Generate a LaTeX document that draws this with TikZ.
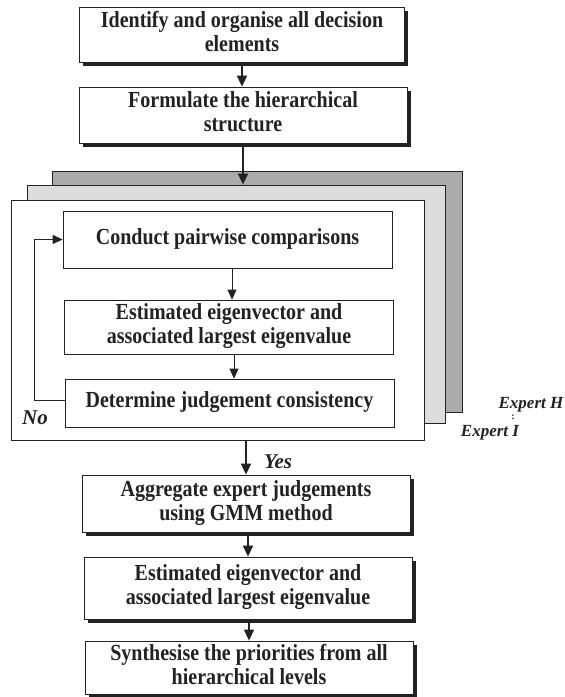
\documentclass[tikz,border=0pt]{standalone}
\usepackage{fontspec}
\setmainfont{Liberation Serif}
\usetikzlibrary{arrows.meta}
\definecolor{ink}{HTML}{222222}
\definecolor{darkpanel}{HTML}{ABABAB}
\definecolor{lightpanel}{HTML}{DCDCDC}
\newcommand\stx[1]{\scalebox{1}[1.15]{\begin{tabular}{@{}c@{}}#1\end{tabular}}}
\tikzset{
  box/.style={draw=ink, line width=0.8pt, fill=white, rectangle, inner sep=0pt, align=center,
    text=ink, font=\bfseries\fontsize{20}{21}\selectfont},
  shbox/.style={box, preaction={draw=none, fill=ink, transform canvas={shift={(3.5pt,-3.5pt)}}}},
  arr/.style={draw=ink, line width=1.6pt, -{Triangle[length=11pt,width=10pt]}},
  thinarr/.style={draw=ink, line width=0.8pt, -{Triangle[length=10pt,width=9pt]}},
  panel/.style={draw=ink, line width=0.8pt, rectangle, inner sep=0pt},
  lbl/.style={text=ink, font=\bfseries\itshape\fontsize{21}{24}\selectfont, inner sep=0pt},
  explbl/.style={text=ink, font=\bfseries\itshape\fontsize{17}{20}\selectfont, inner sep=0pt}
}
\begin{document}
\begin{tikzpicture}[x=1pt,y=-1pt]
\path[use as bounding box, fill=white] (0,0) rectangle (565,697);

% top boxes
\node[shbox, minimum width=325pt, minimum height=55pt] (b1) at (242,34.5) {\stx{Identify and organise all decision\\elements}};
\node[shbox, minimum width=328pt, minimum height=56pt] (b2) at (243,115) {\stx{Formulate the hierarchical\\structure}};

% stacked expert panels
\node[panel, fill=darkpanel, minimum width=410pt, minimum height=241pt] (pdark) at (257,291.5) {};
\node[panel, fill=lightpanel, minimum width=418pt, minimum height=238pt] (plight) at (236,304) {};
\node[panel, fill=white, minimum width=413pt, minimum height=240pt] (pwhite) at (217.5,320) {};

% inner boxes
\node[box, minimum width=329pt, minimum height=57pt] (ba) at (227.5,239.5) {\stx{Conduct pairwise comparisons}};
\node[box, minimum width=329pt, minimum height=54pt] (bb) at (229,327) {\stx{Estimated eigenvector and\\associated largest eigenvalue}};
\node[box, minimum width=329pt, minimum height=48pt] (bc) at (229.5,403) {\stx{Determine judgement consistency}};

% bottom boxes
\node[shbox, minimum width=328pt, minimum height=57pt] (bd) at (246,503.5) {\stx{Aggregate expert judgements\\using GMM method}};
\node[shbox, minimum width=328pt, minimum height=62pt] (be) at (248,588) {\stx{Estimated eigenvector and\\associated largest eigenvalue}};
\node[shbox, minimum width=328pt, minimum height=53pt] (bf) at (249,667.5) {\stx{Synthesise the priorities from all\\hierarchical levels}};

% labels
\node[lbl] (no) at (35,418) {No};
\node[lbl] (yes) at (278,462) {Yes};
\node[explbl] (eh) at (531,405) {Expert H};
\node[explbl] (ei) at (490,433) {Expert I};
\node[text=ink, font=\bfseries\fontsize{10}{10}\selectfont, inner sep=0pt] (dots) at (513,417) {:};

% connectors
\draw[arr] (b1.south) -- (b1.south |- b2.north);
\draw[arr] (b2.south) -- (b2.south |- plight.north);
\draw[thinarr] (ba.south -| 232,0) -- (232,0 |- bb.north);
\draw[thinarr] (bb.south -| 234,0) -- (234,0 |- bc.north);
\coordinate (lpb) at (34,400);
\coordinate (lpt) at (34,239.5);
\draw[thinarr] (bc.west |- lpb) -- (lpb) -- (lpt) -- (ba.west);
\draw[arr] (pwhite.south -| bd.north) -- (bd.north);
\draw[arr] (bd.south -| be.north) -- (be.north);
\draw[arr] (be.south -| bf.north) -- (bf.north);
\end{tikzpicture}
\end{document}
